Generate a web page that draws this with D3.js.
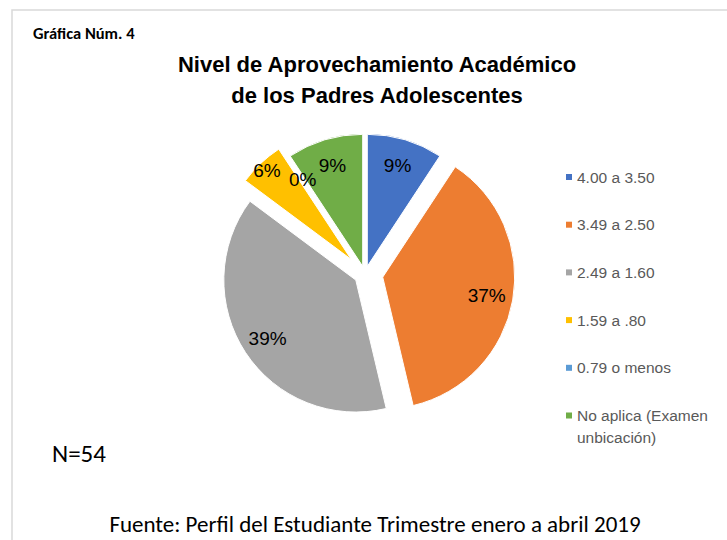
<!DOCTYPE html>
<html>
<head>
<meta charset="utf-8">
<script src="https://cdn.jsdelivr.net/npm/d3@7"></script>
<style>
  body { margin: 0; background: #fff; }
  svg { display: block; }
</style>
</head>
<body>
<svg id="chart" width="727" height="540"></svg>
<script>
// Datos (N=54)
const categories = ["4.00 a 3.50", "3.49 a 2.50", "2.49 a 1.60", "1.59 a .80", "0.79 o menos", "No aplica (Examen unbicación)"];
const counts = [5, 20, 21, 3, 0, 5];
const colors = ["#4472C4", "#ED7D31", "#A5A5A5", "#FFC000", "#5B9BD5", "#70AD47"];
const legendLines = [["4.00 a 3.50"], ["3.49 a 2.50"], ["2.49 a 1.60"], ["1.59 a .80"], ["0.79 o menos"], ["No aplica (Examen", "unbicación)"]];

// Layout
const width = 727, height = 540;
const cx = 365, cy = 274, R = 132;
const explode = [8, 18, 11, 20, 0, 8];
const labelFactor = [0.8, 0.8, 0.8, 0.93, 0.86, 0.8];

const svg = d3.select("#chart");

// frame
svg.append("rect")
    .attr("x", 12).attr("y", 10)
    .attr("width", 800).attr("height", 600)
    .attr("fill", "none")
    .attr("stroke", "#d9d9d9")
    .attr("stroke-width", 1.5);

// Titles
svg.append("text")
    .attr("x", 33).attr("y", 39)
    .attr("font-family", "Carlito, Lato, sans-serif")
    .attr("font-weight", "bold")
    .attr("font-size", 16.5)
    .text("Gráfica Núm. 4");

const title = svg.append("text")
    .attr("text-anchor", "middle")
    .attr("font-family", "Liberation Sans, Arial, sans-serif")
    .attr("font-weight", "bold")
    .attr("font-size", 22)
    .attr("fill", "#000");
title.append("tspan").attr("x", 377).attr("y", 72).text("Nivel de Aprovechamiento Académico");
title.append("tspan").attr("x", 377).attr("y", 103).text("de los Padres Adolescentes");

// Pie
const total = d3.sum(counts);
const pct = d3.format(".0%");
const pie = d3.pie().sort(null).value(d => d);
const arc = d3.arc().innerRadius(0).outerRadius(R);
const arcs = pie(counts);

const g = svg.append("g").attr("transform", `translate(${cx},${cy})`);

const offset = (d, i, r) => {
    const mid = (d.startAngle + d.endAngle) / 2;
    return [Math.sin(mid) * r, -Math.cos(mid) * r];
};

g.selectAll("path.slice")
    .data(arcs)
    .join("path")
    .attr("class", "slice")
    .attr("d", d => d.value > 0 ? arc(d) : null)
    .attr("transform", (d, i) => {
        const [dx, dy] = offset(d, i, explode[i]);
        return `translate(${dx},${dy})`;
    })
    .attr("fill", (d, i) => colors[i])
    .attr("stroke", "#fff")
    .attr("stroke-width", 1);

g.selectAll("text.lbl")
    .data(arcs)
    .join("text")
    .attr("class", "lbl")
    .attr("transform", (d, i) => {
        const [ex, ey] = offset(d, i, explode[i]);
        const [lx, ly] = offset(d, i, R * labelFactor[i]);
        return `translate(${ex + lx},${ey + ly})`;
    })
    .attr("text-anchor", "middle")
    .attr("dy", "0.36em")
    .attr("font-family", "Liberation Sans, Arial, sans-serif")
    .attr("font-size", 19)
    .attr("fill", "#000")
    .text(d => pct(d.value / total));

// Legend
const legend = svg.append("g").attr("transform", "translate(566,177)");
const rowH = 47.7;
const item = legend.selectAll("g.item")
    .data(categories)
    .join("g")
    .attr("class", "item")
    .attr("transform", (d, i) => `translate(0,${i * rowH})`);

item.append("rect")
    .attr("x", 0).attr("y", -3)
    .attr("width", 6).attr("height", 6)
    .attr("fill", (d, i) => colors[i]);

item.append("text")
    .attr("x", 11)
    .attr("font-family", "Liberation Sans, Arial, sans-serif")
    .attr("font-size", 15.5)
    .attr("fill", "#595959")
    .selectAll("tspan")
    .data((d, i) => legendLines[i])
    .join("tspan")
    .attr("x", 11)
    .attr("y", (d, j) => j * 21.5)
    .attr("dy", "0.36em")
    .text(d => d);

// Notes
svg.append("text")
    .attr("x", 52).attr("y", 462)
    .attr("font-family", "Carlito, Lato, sans-serif")
    .attr("font-size", 25)
    .text("N=54");

svg.append("text")
    .attr("x", 375).attr("y", 532)
    .attr("text-anchor", "middle")
    .attr("font-family", "Carlito, Lato, sans-serif")
    .attr("font-size", 23)
    .text("Fuente: Perfil del Estudiante Trimestre enero a abril 2019");
</script>
</body>
</html>
